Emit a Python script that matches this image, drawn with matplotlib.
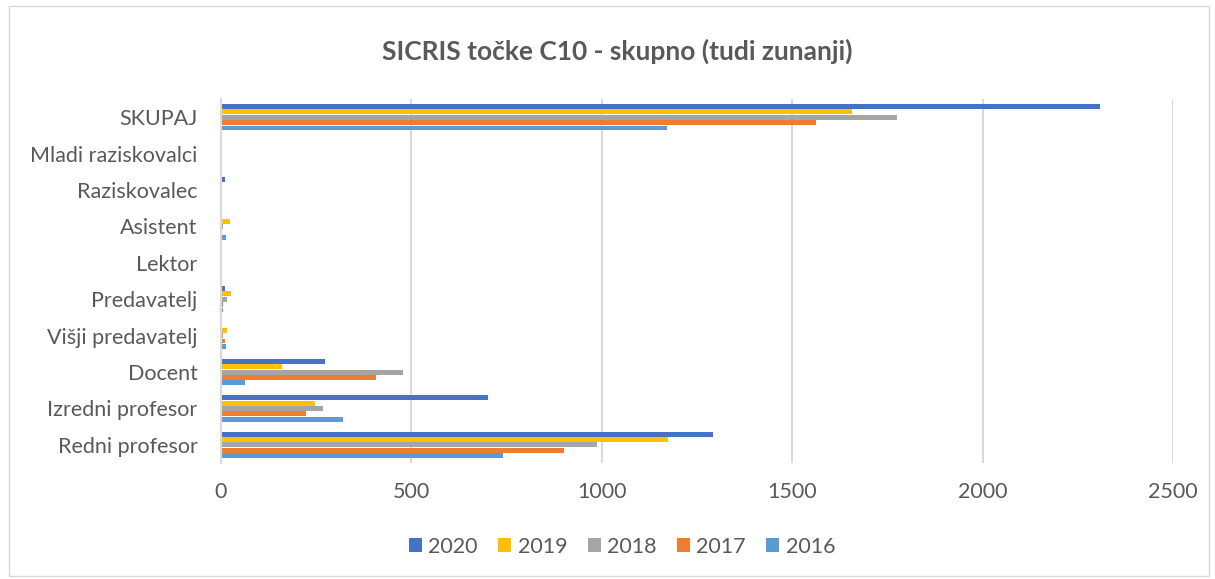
import numpy as np
import matplotlib.pyplot as plt
from matplotlib.patches import Rectangle

plt.rcParams['font.family'] = ['Lato', 'DejaVu Sans']

categories = ['Redni profesor', 'Izredni profesor', 'Docent', 'Višji predavatelj',
              'Predavatelj', 'Lektor', 'Asistent', 'Raziskovalec',
              'Mladi raziskovalci', 'SKUPAJ']
years = ['2020', '2019', '2018', '2017', '2016']
v2020 = [1292, 701, 272, 0, 10, 3, 0, 11, 0, 2308]
v2019 = [1174, 248, 160, 15, 25, 0, 24, 0, 0, 1658]
v2018 = [987, 268, 478, 5, 15, 0, 4, 0, 3, 1775]
v2017 = [900, 222, 407, 10, 4, 0, 2, 0, 0, 1562]
v2016 = [741, 320, 63, 13, 6, 0, 13, 0, 0, 1170]
series = [v2020, v2019, v2018, v2017, v2016]
colors = ['#4472C4', '#FFC000', '#A5A5A5', '#ED7D31', '#5B9BD5']

txt = '#595959'
fig = plt.figure(figsize=(12.15, 5.79), dpi=100)
fig.patches.append(Rectangle((0.007, 0.005), 0.988, 0.985, transform=fig.transFigure,
                             fill=False, edgecolor='#d9d9d9', linewidth=1))
ax = fig.add_axes([0.1819, 0.2003, 0.7835, 0.6287])

y = np.arange(len(categories))
h = 0.148
for i, (vals, c, yr) in enumerate(zip(series, colors, years)):
    off = (2 - i) * h
    ax.barh(y + off, vals, height=h * 0.92, color=c, label=yr, linewidth=0)

ax.set_xlim(0, 2500)
ax.set_ylim(-0.5, len(categories) - 0.5)
ax.set_xticks(np.arange(0, 2501, 500))
ax.set_yticks(y)
ax.set_yticklabels(categories)
ax.tick_params(length=0, labelsize=15.5, labelcolor=txt)
ax.tick_params(axis='x', pad=14)
ax.tick_params(axis='y', pad=17)
ax.grid(axis='x', color='#d9d9d9', linewidth=1.5)
ax.set_axisbelow(True)
for s in ['top', 'right', 'bottom']:
    ax.spines[s].set_visible(False)
ax.spines['left'].set_color('#d9d9d9')
ax.spines['left'].set_linewidth(1.5)

fig.text(0.508, 0.912, 'SICRIS točke C10 - skupno (tudi zunanji)', ha='center', va='center',
         fontsize=19, fontweight='bold', color=txt)
fig.legend(loc='lower center', bbox_to_anchor=(0.512, 0.005), ncol=5, frameon=False,
           fontsize=15.5, labelcolor=txt, handlelength=0.6, handleheight=0.6,
           handletextpad=0.3, columnspacing=0.95)

fig.savefig('out.png', dpi=100)
